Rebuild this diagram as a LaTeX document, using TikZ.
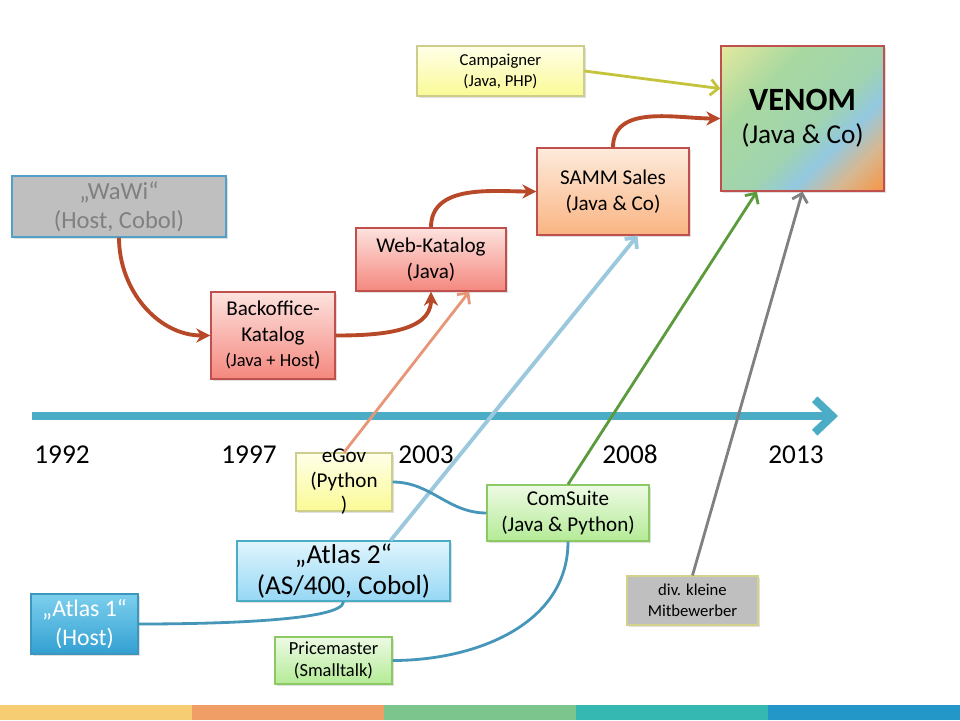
\documentclass[tikz,border=0pt]{standalone}
\usepackage{fontspec}
\setmainfont{Carlito}
\usetikzlibrary{arrows.meta,shadows}

\definecolor{arrowbrown}{RGB}{183,72,40}
\definecolor{arrowsalmon}{RGB}{231,150,120}
\definecolor{arrowlightblue}{RGB}{155,200,220}
\definecolor{arrowgreen}{RGB}{90,155,60}
\definecolor{arrowgrey}{RGB}{128,128,128}
\definecolor{arrowolive}{RGB}{195,195,60}
\definecolor{linkblue}{RGB}{70,150,185}
\definecolor{timeline}{RGB}{75,172,198}
\definecolor{boxgrey}{RGB}{191,191,191}
\definecolor{wawiline}{RGB}{80,160,200}
\definecolor{wawitext}{RGB}{128,128,128}
\definecolor{redline}{RGB}{192,80,77}
\definecolor{redtop}{RGB}{253,226,222}
\definecolor{redbottom}{RGB}{244,136,126}
\definecolor{orangetop}{RGB}{253,235,220}
\definecolor{orangebottom}{RGB}{250,180,130}
\definecolor{yellowline}{RGB}{205,205,140}
\definecolor{yellowtop}{RGB}{255,255,232}
\definecolor{yellowbottom}{RGB}{250,250,150}
\definecolor{greenline}{RGB}{140,200,100}
\definecolor{greentop}{RGB}{237,250,228}
\definecolor{greenbottom}{RGB}{180,235,150}
\definecolor{blueline}{RGB}{75,172,198}
\definecolor{bluetop}{RGB}{224,245,253}
\definecolor{bluebottom}{RGB}{150,215,245}
\definecolor{darkblueline}{RGB}{60,150,190}
\definecolor{darkbluetop}{RGB}{125,207,237}
\definecolor{darkbluebottom}{RGB}{50,160,210}
\definecolor{mitline}{RGB}{210,210,140}
\definecolor{venomyellow}{RGB}{226,232,158}
\definecolor{venomgreen}{RGB}{168,216,160}
\definecolor{venommint}{RGB}{160,212,175}
\definecolor{venomblue}{RGB}{146,200,224}
\definecolor{venomtan}{RGB}{214,184,146}
\definecolor{venomorange}{RGB}{247,150,70}
\definecolor{stripeyellow}{RGB}{247,205,116}
\definecolor{stripeorange}{RGB}{240,158,101}
\definecolor{stripegreen}{RGB}{124,198,142}
\definecolor{stripeteal}{RGB}{53,184,177}
\definecolor{stripeblue}{RGB}{35,152,200}

\pgfdeclarehorizontalshading{venomshade}{100bp}{color(0bp)=(venomyellow); color(15bp)=(venomyellow); color(34bp)=(venomgreen); color(54bp)=(venommint); color(64bp)=(venomblue); color(74bp)=(venomtan); color(85bp)=(venomorange); color(100bp)=(venomorange)}

\tikzset{
  box/.style={draw, line width=0.7pt, inner sep=0pt, align=center,
    drop shadow={shadow xshift=1.2pt, shadow yshift=-1.2pt, opacity=0.25}},
  greybox/.style={box, fill=boxgrey},
  redbox/.style={box, draw=redline, top color=redtop, bottom color=redbottom},
  orangebox/.style={box, draw=redline, top color=orangetop, bottom color=orangebottom},
  yellowbox/.style={box, draw=yellowline, top color=yellowtop, bottom color=yellowbottom},
  greenbox/.style={box, draw=greenline, top color=greentop, bottom color=greenbottom},
  bluebox/.style={box, draw=blueline, top color=bluetop, bottom color=bluebottom},
  darkbluebox/.style={box, draw=darkblueline, top color=darkbluetop, bottom color=darkbluebottom, text=white},
  evolve/.style={draw, arrowbrown, line width=2.2pt, -{Stealth[length=8pt,width=8pt,inset=2.5pt]}},
  merge/.style={draw, line width=1.6pt, -{Straight Barb[length=4.5pt,width=9pt]}},
  link/.style={draw, linkblue, line width=1.6pt},
  year/.style={anchor=base, font=\fontsize{15.5}{18}\selectfont},
}

\begin{document}
\begin{tikzpicture}[x=0.02cm, y=-0.02cm]
\useasboundingbox (0,0) rectangle (960,720);
\foreach \col [count=\i] in {stripeyellow,stripeorange,stripegreen,stripeteal,stripeblue}
  \fill[\col] ({(\i-1)*192},705) rectangle ({\i*192},720);

% timeline
\coordinate (tlstart) at (32,416);
\coordinate (tlend) at (838,416);
\path[draw, timeline, line width=4.5pt, -{Straight Barb[length=10pt,width=19pt]}] (tlstart) -- (tlend);
\node[year] (y1992) at (62,463) {1992};
\node[year] (y1997) at (249,463) {1997};
\node[year] (y2003) at (426,463) {2003};
\node[year] (y2008) at (630,463) {2008};
\node[year] (y2013) at (796,463) {2013};

% systems
\node[greybox, draw=wawiline, text=wawitext, minimum width=4.28cm, minimum height=1.22cm,
  font=\fontsize{14}{16.5}\selectfont] (wawi) at (119,206.5) {„WaWi“\\(Host, Cobol)};
\node[redbox, minimum width=2.48cm, minimum height=1.74cm, font=\fontsize{12}{14.5}\selectfont]
  (backoffice) at (273,335.5) {Backoffice-\\Katalog\\{\fontsize{10.5}{13}\selectfont(Java + Host})};
\node[redbox, minimum width=3cm, minimum height=1.26cm, font=\fontsize{12}{14.5}\selectfont]
  (webkat) at (431,259.5) {Web-Katalog\\(Java)};
\node[orangebox, minimum width=3.04cm, minimum height=1.74cm, font=\fontsize{12}{15}\selectfont]
  (samm) at (613,191.5) {SAMM Sales\\(Java \& Co)};
\node[yellowbox, minimum width=3.34cm, minimum height=1cm, font=\fontsize{9.5}{12}\selectfont]
  (campaigner) at (500.5,71) {Campaigner\\(Java, PHP)};
\node[box, draw=redline, shading=venomshade, shading angle=-45, minimum width=3.26cm,
  minimum height=2.9cm, font=\fontsize{15.5}{19}\selectfont]
  (venom) at (802.5,118.5) {{\fontsize{18.5}{21}\selectfont\bfseries VENOM}\\(Java \& Co)};
\node[yellowbox, minimum width=1.92cm, minimum height=1.16cm] (egov) at (344,482) {};
\node[align=center, font=\fontsize{12}{14}\selectfont] (egovtext) at (egov.center) {eGov\\(Python\\)};
\node[greenbox, minimum width=3.24cm, minimum height=1.12cm, font=\fontsize{12}{15}\selectfont]
  (comsuite) at (568,513) {ComSuite\\(Java \& Python)};
\node[bluebox, minimum width=4.26cm, minimum height=1.2cm, font=\fontsize{15.5}{18}\selectfont]
  (atlas2) at (343.5,571) {„Atlas 2“\\(AS/400, Cobol)};
\node[darkbluebox, minimum width=2.14cm, minimum height=1.2cm, font=\fontsize{13.5}{16.5}\selectfont]
  (atlas1) at (84.5,624) {„Atlas 1“\\(Host)};
\node[greenbox, minimum width=2.34cm, minimum height=0.94cm, font=\fontsize{10.5}{13}\selectfont]
  (pricemaster) at (333.5,660.5) {Pricemaster\\(Smalltalk)};
\node[greybox, draw=mitline, minimum width=2.62cm, minimum height=0.98cm, font=\fontsize{9.5}{12}\selectfont]
  (mitbewerber) at (692.5,600.5) {div. kleine\\Mitbewerber};

% connectors
\path[evolve] (wawi.south) to[out=-90, in=180] (backoffice.west);
\path[evolve] (backoffice.east) to[out=0, in=-90] (webkat.south);
\path[evolve] (webkat.north) to[out=90, in=180] (samm.west);
\path[evolve] (samm.north) to[out=90, in=180] (venom.west);
\path[merge, arrowolive] (campaigner.east) -- (venom.160);
\path[merge, arrowsalmon] (egov.north) -- (webkat.-40);
\path[merge, arrowlightblue, line width=2.2pt] (atlas2.33) -- (samm.-61);
\path[merge, arrowgreen] (comsuite.north) -- (venom.-122);
\path[merge, arrowgrey] (mitbewerber.north) -- (venom.south);
\path[link] (egov.east) to[out=0, in=180] (comsuite.west);
\path[link] (atlas1.east) to[out=0, in=-90, out looseness=0.8, in looseness=0.25] (atlas2.south);
\path[link] (pricemaster.east) to[out=0, in=-90] (comsuite.south);
\end{tikzpicture}
\end{document}
